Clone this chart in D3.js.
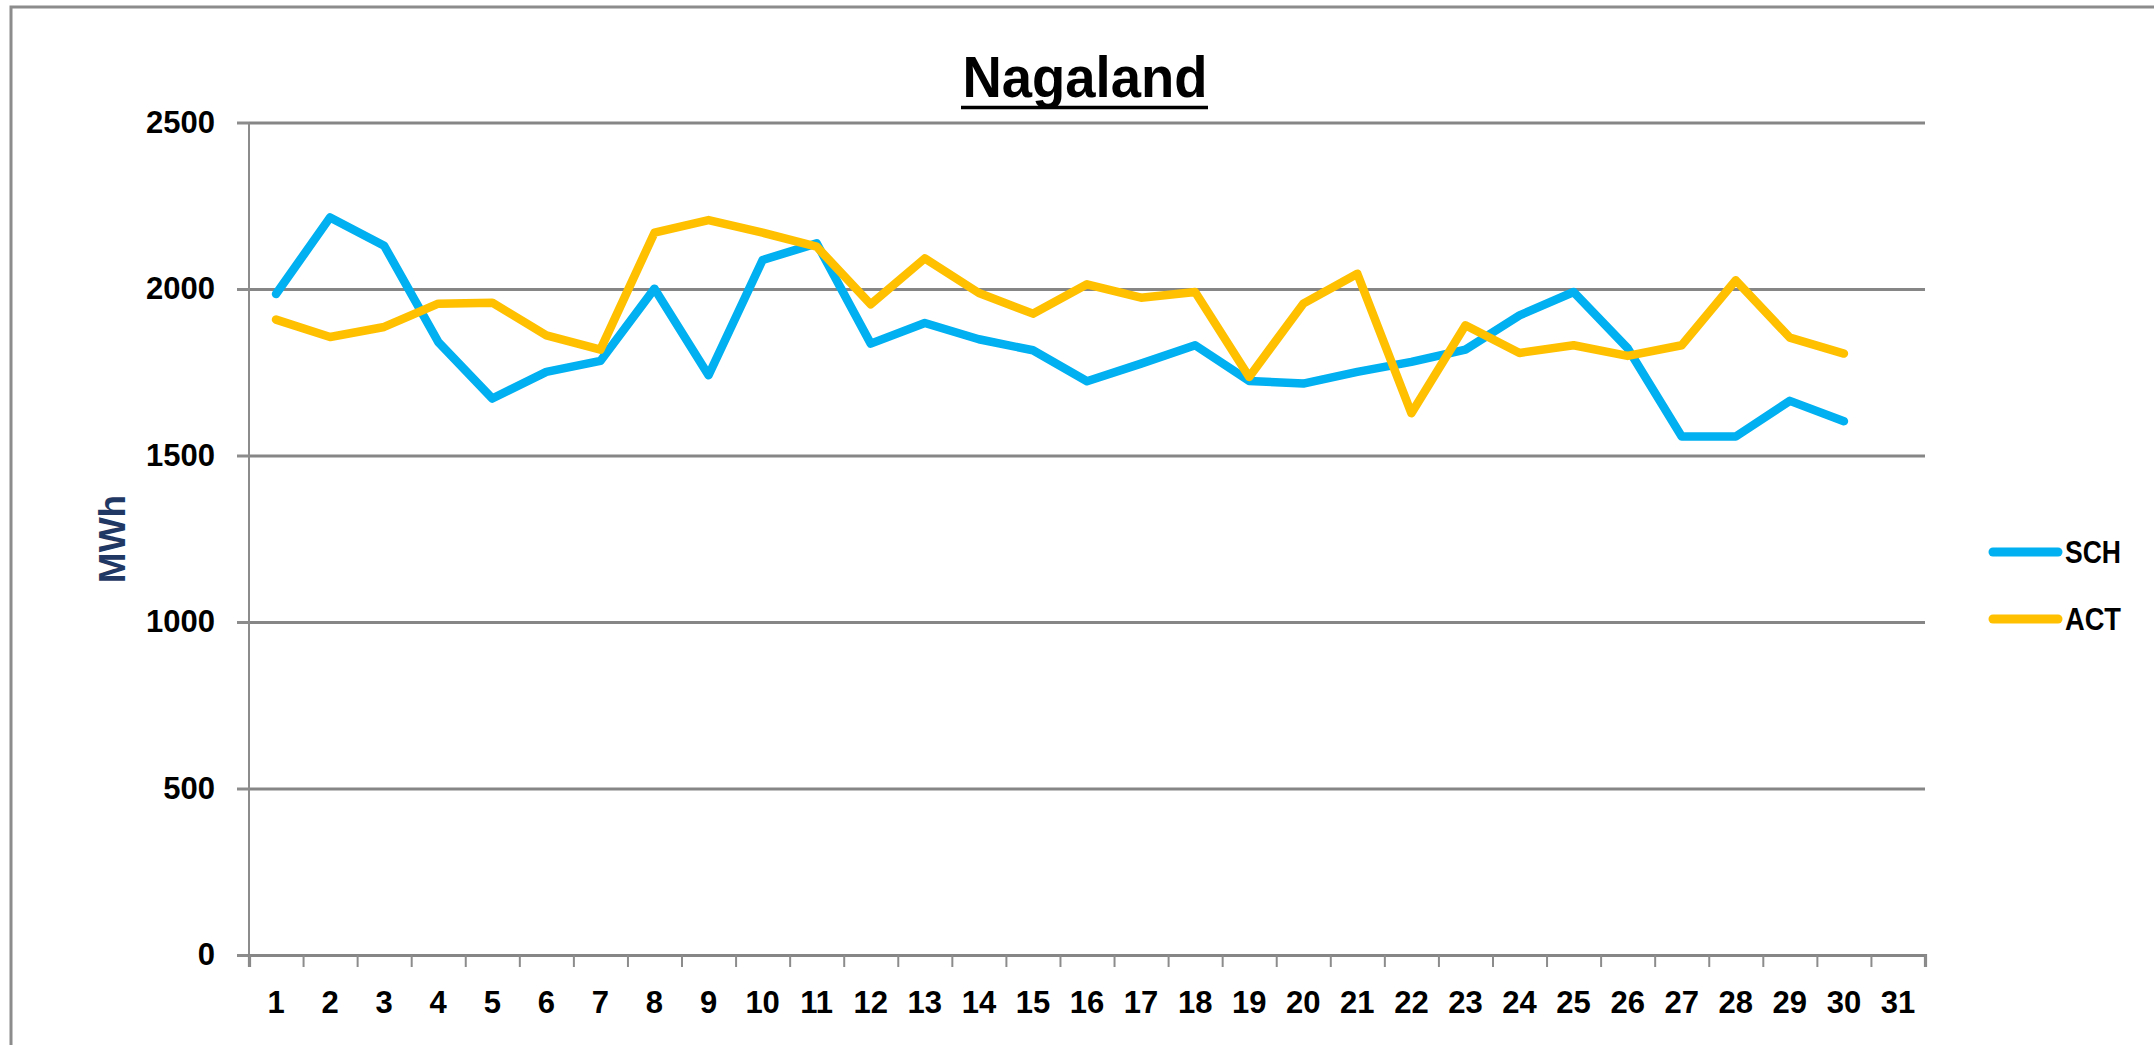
<!DOCTYPE html>
<html>
<head>
<meta charset="utf-8">
<script src="https://cdn.jsdelivr.net/npm/d3@7"></script>
<style>
  html, body { margin: 0; padding: 0; background: #fff; }
  svg { display: block; }
  text { font-family: "Liberation Sans", Arial, sans-serif; font-weight: bold; }
</style>
</head>
<body>
<svg id="chart" width="2154" height="1045"></svg>
<script>
const categories = d3.range(1, 32).map(String);
const days = d3.range(1, 31).map(String);
const schValues = [1985, 2215, 2130, 1841, 1671, 1751, 1784, 2001, 1741, 2087, 2137, 1836, 1898, 1849, 1816, 1723, 1776, 1831, 1724, 1716, 1751, 1781, 1818, 1921, 1991, 1822, 1557, 1557, 1664, 1603];
const actValues = [1908, 1856, 1886, 1956, 1959, 1861, 1818, 2169, 2207, 2169, 2127, 1954, 2092, 1988, 1926, 2014, 1974, 1991, 1736, 1956, 2046, 1627, 1891, 1808, 1831, 1799, 1831, 2026, 1854, 1806];
const yTicks = [0, 500, 1000, 1500, 2000, 2500];
const seriesNames = ["SCH", "ACT"];
const seriesColors = ["#00B0F0", "#FFC000"];
const titleText = "Nagaland";
const yTitle = "MWh";

const svg = d3.select("#chart");
const plotL = 249, plotR = 1925, plotT = 122.5, plotB = 955;

// outer border
svg.append("rect").attr("x", 11).attr("y", 7).attr("width", 2300).attr("height", 1200)
  .attr("fill", "#fff").attr("stroke", "#8c8c8c").attr("stroke-width", 3);

const x = d3.scaleBand().domain(categories).range([plotL, plotR]).padding(0);
const xEdge = d3.scaleLinear().domain([0, categories.length]).range([plotL, plotR]);
const y = d3.scaleLinear().domain([0, 2500]).range([plotB, plotT]);

// gridlines
svg.append("g").attr("transform", `translate(${plotL},0)`)
  .call(d3.axisLeft(y).tickValues(yTicks).tickSize(-(plotR - plotL)).tickFormat(""))
  .call(g => g.select(".domain").remove())
  .call(g => g.selectAll("line").attr("stroke", "#868686").attr("stroke-width", 3.2));

// y axis
svg.append("g").attr("transform", `translate(${plotL},0)`)
  .call(d3.axisLeft(y).tickValues(yTicks).tickSize(12).tickPadding(22).tickFormat(d3.format("d")))
  .call(g => g.select(".domain").attr("stroke", "#8c8c8c").attr("stroke-width", 2).attr("d", `M0,${plotT}V${plotB}`))
  .call(g => g.selectAll(".tick line").attr("stroke", "#8c8c8c").attr("stroke-width", 3))
  .call(g => g.selectAll("text").attr("font-size", 31).attr("fill", "#000").attr("font-family", "Liberation Sans, Arial, sans-serif").attr("font-weight", "bold"));

// x axis ticks at band edges
svg.append("g").attr("transform", `translate(0,${plotB})`)
  .call(d3.axisBottom(xEdge).tickValues(d3.range(0, categories.length + 1)).tickSize(12).tickFormat(""))
  .call(g => g.select(".domain").attr("stroke", "#868686").attr("stroke-width", 3.2))
  .call(g => g.selectAll(".tick line").attr("stroke", "#8c8c8c").attr("stroke-width", 2));

// x axis labels
svg.append("g").attr("transform", `translate(0,${plotB})`)
  .call(d3.axisBottom(x).tickSize(0).tickPadding(36))
  .call(g => g.select(".domain").remove())
  .call(g => g.selectAll("text").attr("font-size", 31).attr("fill", "#000").attr("font-family", "Liberation Sans, Arial, sans-serif").attr("font-weight", "bold"));

// lines
const series = [schValues, actValues];
const line = d3.line().x((d, i) => x(days[i]) + x.bandwidth() / 2).y(d => y(d));
series.forEach((vals, k) => {
  svg.append("path").datum(vals).attr("d", line)
    .attr("fill", "none").attr("stroke", seriesColors[k]).attr("stroke-width", 8.5)
    .attr("stroke-linejoin", "round").attr("stroke-linecap", "round");
});

// title
svg.append("text").attr("x", 1085).attr("y", 97).attr("text-anchor", "middle")
  .attr("font-size", 58).attr("fill", "#000")
  .attr("textLength", 245).attr("lengthAdjust", "spacingAndGlyphs").text(titleText);
svg.append("line").attr("x1", 961).attr("x2", 1208).attr("y1", 107.5).attr("y2", 107.5)
  .attr("stroke", "#000").attr("stroke-width", 3.5);

// y title
svg.append("text").attr("transform", "translate(125,539) rotate(-90)")
  .attr("text-anchor", "middle").attr("font-size", 37).attr("fill", "#1F3864").text(yTitle);

// legend
const legendY = [552, 619];
seriesNames.forEach((name, k) => {
  svg.append("line").attr("x1", 1993).attr("x2", 2058).attr("y1", legendY[k]).attr("y2", legendY[k])
    .attr("stroke", seriesColors[k]).attr("stroke-width", 9).attr("stroke-linecap", "round");
  svg.append("text").attr("x", 2065).attr("y", legendY[k]).attr("dy", "0.36em")
    .attr("font-size", 31).attr("fill", "#000")
    .attr("textLength", 56).attr("lengthAdjust", "spacingAndGlyphs").text(name);
});
</script>
</body>
</html>
